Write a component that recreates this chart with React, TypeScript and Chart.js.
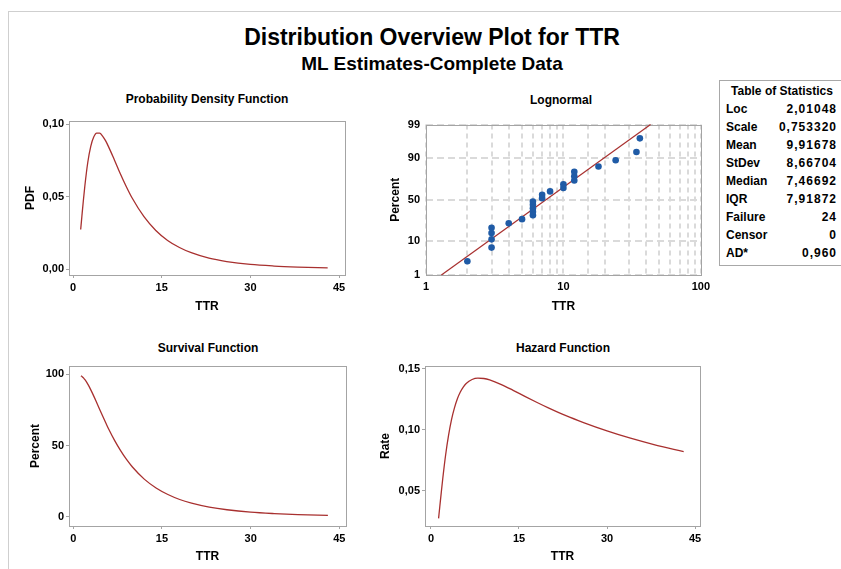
import React, { useEffect, useRef } from 'react';
import { Chart, registerables, LinearScale } from 'chart.js';

Chart.register(...registerables);

// ---------------- data ----------------
const CURVE_TTR = [1.294, 1.5, 1.75, 2, 2.5, 3, 3.5, 4, 4.5, 5, 5.5, 6, 7, 8, 9, 10, 12, 14, 16, 18, 20, 23, 26, 30, 34, 38, 43.07];
const PDF_VALUES = [0.0273, 0.0365, 0.0474, 0.0574, 0.0738, 0.0848, 0.0912, 0.0939, 0.0939, 0.0919, 0.0887, 0.0846, 0.0754, 0.0659, 0.0571, 0.0491, 0.0362, 0.0267, 0.0198, 0.0149, 0.0113, 0.0075, 0.0052, 0.0032, 0.0021, 0.0014, 0.0008];
const SURVIVAL_PCT = [99.0, 98.3, 97.3, 96.0, 92.7, 88.7, 84.3, 79.6, 74.9, 70.3, 65.8, 61.4, 53.4, 46.4, 40.2, 34.9, 26.4, 20.2, 15.6, 12.1, 9.6, 6.8, 4.9, 3.2, 2.2, 1.5, 1.0];
const HAZARD_VALUES = [0.0276, 0.0371, 0.0487, 0.0598, 0.0796, 0.0956, 0.1083, 0.1179, 0.1253, 0.1308, 0.1348, 0.1378, 0.1411, 0.1422, 0.1419, 0.1407, 0.1369, 0.1322, 0.1273, 0.1225, 0.1179, 0.1115, 0.1059, 0.0991, 0.0931, 0.0879, 0.0821];

const OBS_TTR = [2, 3, 3, 3, 3, 4, 5, 6, 6, 6, 6, 6, 7, 7, 8, 10, 10, 12, 12, 12, 18, 24, 34, 36];
const OBS_PCT = [2.87, 6.97, 11.07, 15.16, 19.26, 23.36, 27.46, 31.56, 35.66, 39.75, 43.85, 47.95, 52.05, 56.15, 60.25, 64.34, 68.44, 72.54, 76.64, 80.74, 84.84, 88.93, 93.03, 97.13];
const FIT_TTR = [1.294, 43.07];
const FIT_PCT = [1, 99];

const TTR_TICKS = [0, 15, 30, 45];
const PDF_TICKS = [0, 0.05, 0.1];
const PDF_TICK_LABELS = ['0,00', '0,05', '0,10'];
const SURV_TICKS = [0, 50, 100];
const SURV_TICK_LABELS = ['0', '50', '100'];
const HAZ_TICKS = [0.05, 0.1, 0.15];
const HAZ_TICK_LABELS = ['0,05', '0,10', '0,15'];
const PCT_TICKS = [1, 10, 50, 90, 99];
const LOG_LABELS = [1, 10, 100];

const STAT_LABELS = ['Loc', 'Scale', 'Mean', 'StDev', 'Median', 'IQR', 'Failure', 'Censor', 'AD*'];
const STAT_VALUES = ['2,01048', '0,753320', '9,91678', '8,66704', '7,46692', '7,91872', '24', '0', '0,960'];

// ---------------- style ----------------
const FONT = '"Liberation Sans", Arial, Helvetica, sans-serif';
const LINE_COLOR = '#a8302f';
const POINT_COLOR = '#1f5ba6';
const BOX_COLOR = '#a4a4a4';
const GRID_COLOR = '#dadada';

const Y_AXIS_W = 50;
const X_AXIS_H = 40;
const PAD_T = 10;
const PAD_R = 14;

// inverse standard normal CDF (Acklam) used by the probability-paper scale
function probit(p: number): number {
  const a = [-3.969683028665376e1, 2.209460984245205e2, -2.759285104469687e2, 1.38357751867269e2, -3.066479806614716e1, 2.506628277459239];
  const b = [-5.447609879822406e1, 1.615858368580409e2, -1.556989798598866e2, 6.680131188771972e1, -1.328068155288572e1];
  const c = [-7.784894002430293e-3, -3.223964580411365e-1, -2.400758277161838, -2.549732539343734, 4.374664141464968, 2.938163982698783];
  const d = [7.784695709041462e-3, 3.224671290700398e-1, 2.445134137142996, 3.754408661907416];
  const pl = 0.02425;
  let q: number, r: number;
  if (p < pl) {
    q = Math.sqrt(-2 * Math.log(p));
    return (((((c[0] * q + c[1]) * q + c[2]) * q + c[3]) * q + c[4]) * q + c[5]) / ((((d[0] * q + d[1]) * q + d[2]) * q + d[3]) * q + 1);
  }
  if (p <= 1 - pl) {
    q = p - 0.5;
    r = q * q;
    return ((((((a[0] * r + a[1]) * r + a[2]) * r + a[3]) * r + a[4]) * r + a[5]) * q) / (((((b[0] * r + b[1]) * r + b[2]) * r + b[3]) * r + b[4]) * r + 1);
  }
  q = Math.sqrt(-2 * Math.log(1 - p));
  return -(((((c[0] * q + c[1]) * q + c[2]) * q + c[3]) * q + c[4]) * q + c[5]) / ((((d[0] * q + d[1]) * q + d[2]) * q + d[3]) * q + 1);
}

class ProbitScale extends LinearScale {
  static id = 'probit';
  static defaults = {};
  parse(raw: any, index: number) {
    const v = super.parse(raw, index) as any;
    return v === null || v === undefined ? v : probit(v / 100);
  }
  determineDataLimits() {
    this.min = probit(PCT_TICKS[0] / 100);
    this.max = probit(PCT_TICKS[PCT_TICKS.length - 1] / 100);
  }
  buildTicks() {
    return PCT_TICKS.map((p) => ({ value: probit(p / 100) }));
  }
}
Chart.register(ProbitScale as any);

const framePlugin = {
  id: 'frameBox',
  beforeDatasetsDraw(chart: any) {
    const { ctx, chartArea: a } = chart;
    ctx.save();
    ctx.strokeStyle = BOX_COLOR;
    ctx.lineWidth = 1;
    ctx.setLineDash([]);
    ctx.strokeRect(Math.round(a.left) + 0.5, Math.round(a.top) + 0.5, Math.round(a.right - a.left), Math.round(a.bottom - a.top));
    ctx.restore();
  },
};

const tickFont = { family: FONT, size: 11, weight: 'bold' as const };
const titleFont = { family: FONT, size: 12, weight: 'bold' as const };

function xLinearAxis(min: number, max: number, titleBottomPad: number) {
  return {
    type: 'linear',
    min,
    max,
    afterBuildTicks: (ax: any) => {
      ax.ticks = TTR_TICKS.map((v) => ({ value: v }));
    },
    afterFit: (ax: any) => {
      ax.height = X_AXIS_H;
    },
    ticks: { autoSkip: false, maxRotation: 0, padding: 3, color: '#000', font: tickFont, callback: (v: any) => String(v) },
    grid: { display: true, drawOnChartArea: false, drawTicks: true, tickLength: 3, tickColor: BOX_COLOR, tickWidth: 1 },
    border: { display: false },
    title: { display: true, text: 'TTR', color: '#000', font: titleFont, padding: { top: 0, bottom: titleBottomPad } },
  };
}

function yLinearAxis(min: number, max: number, ticks: number[], labels: string[], title: string, titleTopPad: number) {
  return {
    type: 'linear',
    min,
    max,
    afterBuildTicks: (ax: any) => {
      ax.ticks = ticks.map((v) => ({ value: v }));
    },
    afterFit: (ax: any) => {
      ax.width = Y_AXIS_W;
    },
    ticks: { autoSkip: false, padding: 2, color: '#000', font: tickFont, callback: (_v: any, i: number) => labels[i] },
    grid: { display: true, drawOnChartArea: false, drawTicks: true, tickLength: 3, tickColor: BOX_COLOR, tickWidth: 1 },
    border: { display: false },
    title: { display: true, text: title, color: '#000', font: titleFont, padding: { top: titleTopPad, bottom: 0 } },
  };
}

function curveDataset(values: number[]) {
  return {
    data: CURVE_TTR.map((x, i) => ({ x, y: values[i] })),
    showLine: true,
    borderColor: LINE_COLOR,
    borderWidth: 1.3,
    pointRadius: 0,
    cubicInterpolationMode: 'monotone',
    fill: false,
  };
}

function baseOptions(scales: any) {
  return {
    responsive: false,
    maintainAspectRatio: false,
    animation: false,
    events: [],
    layout: { padding: { top: PAD_T, right: PAD_R, left: 0, bottom: 0 } },
    plugins: { legend: { display: false }, tooltip: { enabled: false }, title: { display: false } },
    scales,
  };
}

type Box = { L: number; T: number; R: number; B: number };

const PDF_BOX: Box = { L: 69, T: 121, R: 345, B: 275 };
const LOGN_BOX: Box = { L: 426, T: 122, R: 701, B: 275 };
const SURV_BOX: Box = { L: 69, T: 366, R: 346, B: 526 };
const HAZ_BOX: Box = { L: 425, T: 366, R: 700, B: 526 };

function pdfConfig(): any {
  return {
    type: 'scatter',
    data: { datasets: [curveDataset(PDF_VALUES)] },
    options: baseOptions({
      x: xLinearAxis(-0.68, 46.0, 1),
      y: yLinearAxis(-0.0041, 0.1023, PDF_TICKS, PDF_TICK_LABELS, 'PDF', 4),
    }),
    plugins: [framePlugin],
  };
}

function survConfig(): any {
  return {
    type: 'scatter',
    data: { datasets: [curveDataset(SURVIVAL_PCT)] },
    options: baseOptions({
      x: xLinearAxis(-0.73, 46.13, 2),
      y: yLinearAxis(-6.5, 105.8, SURV_TICKS, SURV_TICK_LABELS, 'Percent', 9),
    }),
    plugins: [framePlugin],
  };
}

function hazConfig(): any {
  return {
    type: 'scatter',
    data: { datasets: [curveDataset(HAZARD_VALUES)] },
    options: baseOptions({
      x: xLinearAxis(-1.02, 45.85, 2),
      y: yLinearAxis(0.0214, 0.1521, HAZ_TICKS, HAZ_TICK_LABELS, 'Rate', 3),
    }),
    plugins: [framePlugin],
  };
}

function lognConfig(): any {
  return {
    type: 'scatter',
    data: {
      datasets: [
        {
          data: OBS_TTR.map((x, i) => ({ x, y: OBS_PCT[i] })),
          pointRadius: 3.3,
          pointBackgroundColor: POINT_COLOR,
          pointBorderWidth: 0,
          borderColor: POINT_COLOR,
          showLine: false,
        },
        {
          data: FIT_TTR.map((x, i) => ({ x, y: FIT_PCT[i] })),
          showLine: true,
          borderColor: LINE_COLOR,
          borderWidth: 1.2,
          pointRadius: 0,
        },
      ],
    },
    options: baseOptions({
      x: {
        type: 'logarithmic',
        min: 1,
        max: 100,
        afterFit: (ax: any) => {
          ax.height = X_AXIS_H;
        },
        ticks: {
          autoSkip: false,
          maxRotation: 0,
          padding: 5,
          color: '#000',
          font: tickFont,
          callback: (v: any) => (LOG_LABELS.includes(Number(v)) ? String(v) : ''),
        },
        grid: { display: true, drawOnChartArea: true, drawTicks: false, color: GRID_COLOR, lineWidth: 2 },
        border: { display: false, dash: [5, 4] },
        title: { display: true, text: 'TTR', color: '#000', font: titleFont, padding: { top: 0, bottom: 1 } },
      },
      y: {
        type: 'probit',
        afterFit: (ax: any) => {
          ax.width = Y_AXIS_W;
        },
        ticks: { autoSkip: false, padding: 6, color: '#000', font: tickFont, callback: (_v: any, i: number) => String(PCT_TICKS[i]) },
        grid: { display: true, drawOnChartArea: true, drawTicks: false, color: GRID_COLOR, lineWidth: 2 },
        border: { display: false, dash: [7, 4] },
        title: { display: true, text: 'Percent', color: '#000', font: titleFont, padding: { top: 12, bottom: 0 } },
      },
    }),
    plugins: [framePlugin],
  };
}

function ChartPanel({ box, config }: { box: Box; config: () => any }) {
  const ref = useRef<HTMLCanvasElement | null>(null);
  const width = Y_AXIS_W + (box.R - box.L) + PAD_R;
  const height = PAD_T + (box.B - box.T) + X_AXIS_H;
  useEffect(() => {
    if (!ref.current) return;
    const chart = new Chart(ref.current, config());
    return () => chart.destroy();
  }, []);
  return (
    <canvas
      ref={ref}
      width={width}
      height={height}
      style={{ position: 'absolute', left: box.L - Y_AXIS_W, top: box.T - PAD_T, width, height }}
    />
  );
}

function Text({ x, y, text, size, bold = true, align = 'center' }: { x: number; y: number; text: string; size: number; bold?: boolean; align?: 'center' | 'left' | 'right' }) {
  const H = 30;
  const style: any = {
    position: 'absolute',
    top: y - H / 2,
    height: H,
    lineHeight: H + 'px',
    fontFamily: FONT,
    fontSize: size,
    fontWeight: bold ? 'bold' : 'normal',
    color: '#000',
    whiteSpace: 'nowrap',
  };
  if (align === 'center') {
    style.left = x;
    style.transform = 'translateX(-50%)';
  } else if (align === 'left') {
    style.left = x;
  } else {
    style.right = 841 - x;
  }
  return <div style={style}>{text}</div>;
}

export default function App() {
  return (
    <div style={{ position: 'absolute', left: 0, top: 0, width: 841, height: 569, overflow: 'hidden', background: '#fff' }}>
      <div style={{ position: 'absolute', left: 8, top: 11, width: 900, height: 600, borderTop: '1px solid #cfcfcf', borderLeft: '1px solid #cfcfcf' }} />
      <Text x={432} y={37} text="Distribution Overview Plot for TTR" size={23} />
      <Text x={432} y={64} text="ML Estimates-Complete Data" size={19} />

      <Text x={207} y={98.5} text="Probability Density Function" size={12} />
      <Text x={561} y={99.5} text="Lognormal" size={12} />
      <Text x={208} y={347.5} text="Survival Function" size={12} />
      <Text x={563} y={347.5} text="Hazard Function" size={12} />

      <ChartPanel box={PDF_BOX} config={pdfConfig} />
      <ChartPanel box={LOGN_BOX} config={lognConfig} />
      <ChartPanel box={SURV_BOX} config={survConfig} />
      <ChartPanel box={HAZ_BOX} config={hazConfig} />

      <div style={{ position: 'absolute', left: 719, top: 80, width: 140, height: 184, border: '1px solid #a8a8a8', background: '#fff' }} />
      <Text x={782} y={90.5} text="Table of Statistics" size={12} />
      {STAT_LABELS.map((lab, i) => (
        <Text key={'l' + i} x={726} y={108.5 + i * 18.1} text={lab} size={12} align="left" />
      ))}
      {STAT_VALUES.map((val, i) => (
        <div
          key={'v' + i}
          style={{
            position: 'absolute',
            right: 841 - 837,
            top: 108.5 + i * 18.1 - 15,
            height: 30,
            lineHeight: '30px',
            fontFamily: FONT,
            fontSize: 12,
            fontWeight: 'bold',
            letterSpacing: 1,
            whiteSpace: 'nowrap',
            color: '#000',
          }}
        >
          {val}
        </div>
      ))}
    </div>
  );
}
